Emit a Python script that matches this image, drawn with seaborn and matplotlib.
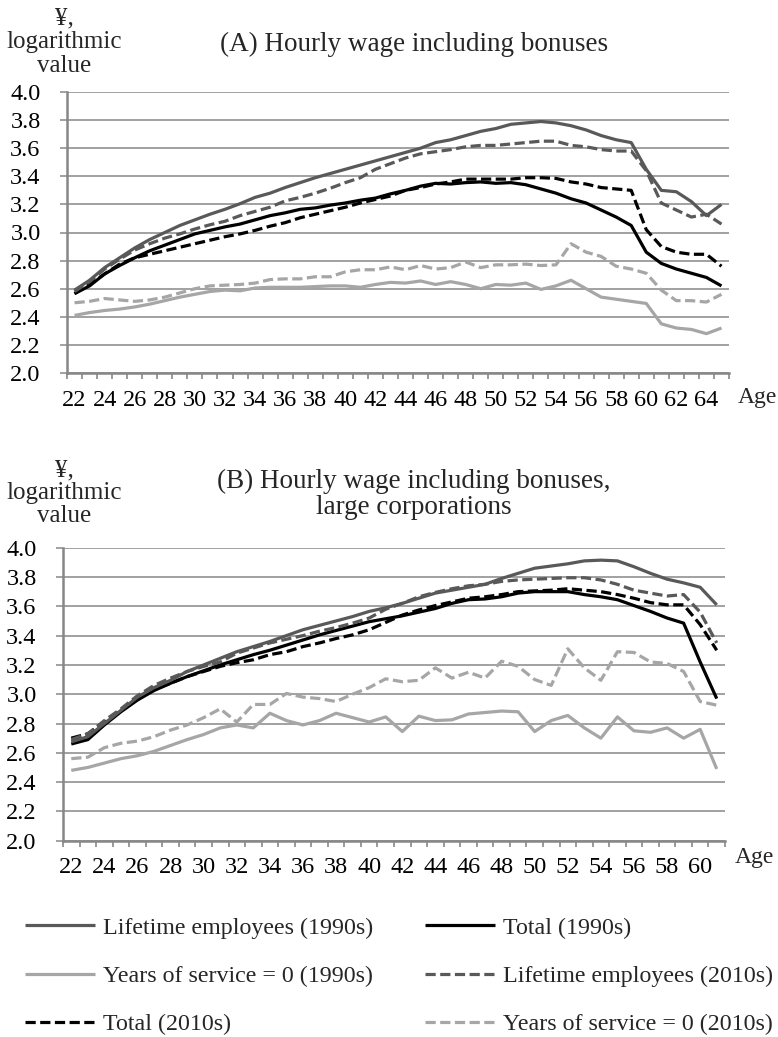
import numpy as np
import pandas as pd
import matplotlib
matplotlib.use("Agg")
import matplotlib.pyplot as plt
from matplotlib.ticker import FormatStrFormatter, FixedLocator
import seaborn as sns

# ---------------- data ----------------
ages_a = list(range(22, 66))
ages_b = list(range(22, 62))

life90_a = [2.59, 2.66, 2.75, 2.82, 2.89, 2.95, 3.00, 3.05, 3.09, 3.13, 3.165, 3.205, 3.25, 3.28,
            3.32, 3.355, 3.39, 3.42, 3.45, 3.48, 3.51, 3.54, 3.57, 3.60, 3.64, 3.66, 3.69, 3.72,
            3.74, 3.77, 3.78, 3.79, 3.78, 3.76, 3.73, 3.69, 3.66, 3.64, 3.45, 3.30, 3.29, 3.22,
            3.12, 3.20]
total90_a = [2.565, 2.62, 2.705, 2.765, 2.82, 2.87, 2.91, 2.95, 2.99, 3.015, 3.04, 3.06, 3.09, 3.12,
             3.14, 3.165, 3.175, 3.195, 3.21, 3.23, 3.245, 3.275, 3.30, 3.33, 3.35, 3.345, 3.355,
             3.36, 3.35, 3.355, 3.34, 3.31, 3.28, 3.24, 3.21, 3.16, 3.11, 3.05, 2.86, 2.78, 2.74,
             2.71, 2.68, 2.62]
yrs0_90_a = [2.41, 2.43, 2.445, 2.455, 2.47, 2.49, 2.515, 2.54, 2.56, 2.58, 2.59, 2.585, 2.605, 2.61,
             2.61, 2.61, 2.615, 2.62, 2.62, 2.61, 2.63, 2.645, 2.64, 2.655, 2.63, 2.65, 2.63, 2.60,
             2.63, 2.625, 2.64, 2.595, 2.62, 2.66, 2.60, 2.54, 2.525, 2.51, 2.495, 2.35, 2.32, 2.31,
             2.28, 2.32]
life10_a = [2.58, 2.65, 2.74, 2.81, 2.875, 2.92, 2.96, 2.99, 3.025, 3.055, 3.08, 3.12, 3.15, 3.18,
            3.225, 3.25, 3.28, 3.315, 3.355, 3.39, 3.45, 3.49, 3.53, 3.56, 3.575, 3.59, 3.61, 3.62,
            3.62, 3.63, 3.64, 3.65, 3.65, 3.62, 3.61, 3.59, 3.58, 3.58, 3.44, 3.21, 3.16, 3.11,
            3.13, 3.06]
total10_a = [2.565, 2.63, 2.705, 2.775, 2.82, 2.845, 2.87, 2.895, 2.92, 2.945, 2.97, 2.99, 3.015,
             3.045, 3.07, 3.105, 3.13, 3.155, 3.18, 3.21, 3.235, 3.26, 3.30, 3.32, 3.345, 3.36, 3.38,
             3.38, 3.38, 3.38, 3.39, 3.39, 3.385, 3.36, 3.345, 3.32, 3.31, 3.30, 3.02, 2.90, 2.86,
             2.845, 2.845, 2.76]
yrs0_10_a = [2.50, 2.51, 2.53, 2.52, 2.51, 2.52, 2.54, 2.57, 2.60, 2.62, 2.625, 2.63, 2.64, 2.665,
             2.67, 2.67, 2.685, 2.685, 2.72, 2.735, 2.735, 2.755, 2.735, 2.765, 2.74, 2.75, 2.79,
             2.75, 2.77, 2.77, 2.775, 2.765, 2.77, 2.92, 2.86, 2.83, 2.76, 2.74, 2.71, 2.59, 2.515,
             2.515, 2.505, 2.56]

life90_b = [2.675, 2.71, 2.80, 2.89, 2.98, 3.045, 3.095, 3.155, 3.20, 3.245, 3.29, 3.325, 3.36, 3.40,
            3.44, 3.47, 3.50, 3.53, 3.565, 3.59, 3.62, 3.655, 3.69, 3.71, 3.73, 3.75, 3.79, 3.825,
            3.86, 3.875, 3.89, 3.91, 3.915, 3.91, 3.87, 3.825, 3.785, 3.76, 3.73, 3.61]
total90_b = [2.66, 2.69, 2.79, 2.88, 2.96, 3.025, 3.075, 3.12, 3.16, 3.20, 3.235, 3.27, 3.30, 3.335,
             3.37, 3.405, 3.435, 3.465, 3.495, 3.515, 3.535, 3.56, 3.585, 3.62, 3.645, 3.65, 3.665,
             3.69, 3.70, 3.70, 3.70, 3.68, 3.665, 3.645, 3.605, 3.565, 3.52, 3.485, 3.22, 2.97]
yrs0_90_b = [2.48, 2.50, 2.53, 2.56, 2.58, 2.61, 2.65, 2.69, 2.725, 2.77, 2.79, 2.77, 2.87, 2.82,
             2.79, 2.82, 2.87, 2.84, 2.81, 2.845, 2.745, 2.85, 2.82, 2.825, 2.865, 2.875, 2.885,
             2.88, 2.745, 2.82, 2.855, 2.77, 2.70, 2.845, 2.75, 2.74, 2.77, 2.70, 2.76, 2.49]
life10_b = [2.69, 2.73, 2.82, 2.90, 2.99, 3.06, 3.11, 3.155, 3.19, 3.22, 3.28, 3.315, 3.35, 3.375,
            3.40, 3.43, 3.455, 3.485, 3.52, 3.58, 3.62, 3.665, 3.695, 3.72, 3.74, 3.75, 3.77, 3.78,
            3.785, 3.79, 3.795, 3.795, 3.78, 3.75, 3.71, 3.69, 3.67, 3.68, 3.56, 3.35]
total10_b = [2.70, 2.73, 2.81, 2.89, 2.965, 3.03, 3.075, 3.12, 3.155, 3.19, 3.215, 3.235, 3.27, 3.29,
             3.325, 3.35, 3.38, 3.405, 3.44, 3.49, 3.54, 3.575, 3.605, 3.63, 3.655, 3.665, 3.68,
             3.70, 3.705, 3.71, 3.72, 3.71, 3.70, 3.68, 3.655, 3.625, 3.61, 3.61, 3.475, 3.30]
yrs0_10_b = [2.56, 2.57, 2.635, 2.665, 2.68, 2.71, 2.755, 2.79, 2.84, 2.90, 2.81, 2.93, 2.93, 3.005,
             2.98, 2.97, 2.95, 3.00, 3.045, 3.105, 3.085, 3.095, 3.18, 3.11, 3.15, 3.11, 3.225, 3.19,
             3.10, 3.06, 3.31, 3.18, 3.095, 3.29, 3.285, 3.22, 3.21, 3.155, 2.95, 2.925]

series_names = ["Lifetime employees (1990s)", "Total (1990s)", "Years of service = 0 (1990s)",
                "Lifetime employees (2010s)", "Total (2010s)", "Years of service = 0 (2010s)"]
y_ticks = [2.0, 2.2, 2.4, 2.6, 2.8, 3.0, 3.2, 3.4, 3.6, 3.8, 4.0]
title_a = "(A) Hourly wage including bonuses"
title_b = "(B) Hourly wage including bonuses,\nlarge corporations"
ylabel_text = "¥,\nlogarithmic\nvalue"
xlabel_text = "Age"

# ---------------- style ----------------
sns.set_theme(style="white")
plt.rcParams["font.family"] = ["Liberation Serif", "DejaVu Serif"]

DARK = "#595959"
BLACK = "#000000"
LIGHT = "#a6a6a6"
AXGRAY = "#878787"
DASH = (0, (3.2, 1.4))
styles = {
    series_names[0]: (DARK, "-"),
    series_names[1]: (BLACK, "-"),
    series_names[2]: (LIGHT, "-"),
    series_names[3]: (DARK, DASH),
    series_names[4]: (BLACK, DASH),
    series_names[5]: (LIGHT, DASH),
}

W, H = 778, 1037
fig = plt.figure(figsize=(W / 100, H / 100), dpi=100)

def fx(px):
    return px / W

def fy(py):
    return 1 - py / H

ax_a = fig.add_axes([fx(67), fy(373), fx(729) - fx(67), fy(92) - fy(373)])
ax_b = fig.add_axes([fx(63), fy(840.7), fx(725) - fx(63), fy(547.7) - fy(840.7)])

panels = [
    (ax_a, ages_a, [life90_a, total90_a, yrs0_90_a, life10_a, total10_a, yrs0_10_a]),
    (ax_b, ages_b, [life90_b, total90_b, yrs0_90_b, life10_b, total10_b, yrs0_10_b]),
]

TICKFS = 17.5
for ax, ages, vals in panels:
    order = [2, 5, 4, 1, 3, 0]
    for i in order:
        name = series_names[i]
        color, ls = styles[name]
        df = pd.DataFrame({"age": ages, "value": vals[i]})
        sns.lineplot(data=df, x="age", y="value", ax=ax, color=color, linewidth=2.3,
                     linestyle=ls, label=name, legend=False,
                     solid_joinstyle="round", dash_capstyle="butt", solid_capstyle="butt")
    ax.set_xlim(ages[0] - 0.5, ages[-1] + 0.5)
    ax.set_ylim(2.0, 4.0)
    ax.set_xlabel("")
    ax.set_ylabel("")
    ax.set_yticks(y_ticks)
    ax.yaxis.set_major_formatter(FormatStrFormatter("%.1f"))
    ax.set_xticks(list(range(ages[0], ages[-1] + 1, 2)))
    ax.xaxis.set_minor_locator(FixedLocator(np.arange(ages[0] - 0.5, ages[-1] + 1.0, 1.0)))
    ax.tick_params(axis="x", which="major", length=0, pad=12, labelsize=TICKFS, labelcolor="black")
    ax.tick_params(axis="x", which="minor", length=4.5, width=1.2, color=AXGRAY, direction="out",
                   bottom=True)
    ax.tick_params(axis="y", which="major", length=5, width=1.1, color=AXGRAY, direction="out",
                   pad=14, labelsize=TICKFS, labelcolor="black", left=True)
    ax.yaxis.grid(True, color=AXGRAY, linewidth=1.1)
    ax.xaxis.grid(False)
    ax.set_axisbelow(True)
    for side in ["top", "right"]:
        ax.spines[side].set_visible(False)
    for side in ["left", "bottom"]:
        ax.spines[side].set_color(AXGRAY)
        ax.spines[side].set_linewidth(1.8)
    ax.patch.set_alpha(0)

# titles and axis texts
fig.text(fx(414), fy(44), title_a, ha="center", va="center", fontsize=19.5)
fig.text(fx(414), fy(494), title_b, ha="center", va="center", fontsize=19.5,
         linespacing=1.05, multialignment="center")
fig.text(fx(64), fy(42), ylabel_text, ha="center", va="center", fontsize=18,
         linespacing=1.12, multialignment="center")
fig.text(fx(64), fy(493), ylabel_text, ha="center", va="center", fontsize=18,
         linespacing=1.06, multialignment="center")
fig.text(fx(738), fy(398), xlabel_text, ha="left", va="center", fontsize=17)
fig.text(fx(735), fy(858), xlabel_text, ha="left", va="center", fontsize=17)

# legend (two columns built as two single-column legends)
handles = {ln.get_label(): ln for ln in ax_a.lines}
col1 = [series_names[0], series_names[2], series_names[4]]
col2 = [series_names[1], series_names[3], series_names[5]]
LEGFS = 17.3
for names, xpx in [(col1, 25), (col2, 425)]:
    fig.legend(handles=[handles[n] for n in names], labels=names,
               loc="center left", bbox_to_anchor=(fx(xpx), fy(976)),
               frameon=False, fontsize=LEGFS, handlelength=2.9, handletextpad=0.33,
               labelspacing=1.1, borderpad=0, borderaxespad=0)

fig.savefig("out.png", dpi=100)
